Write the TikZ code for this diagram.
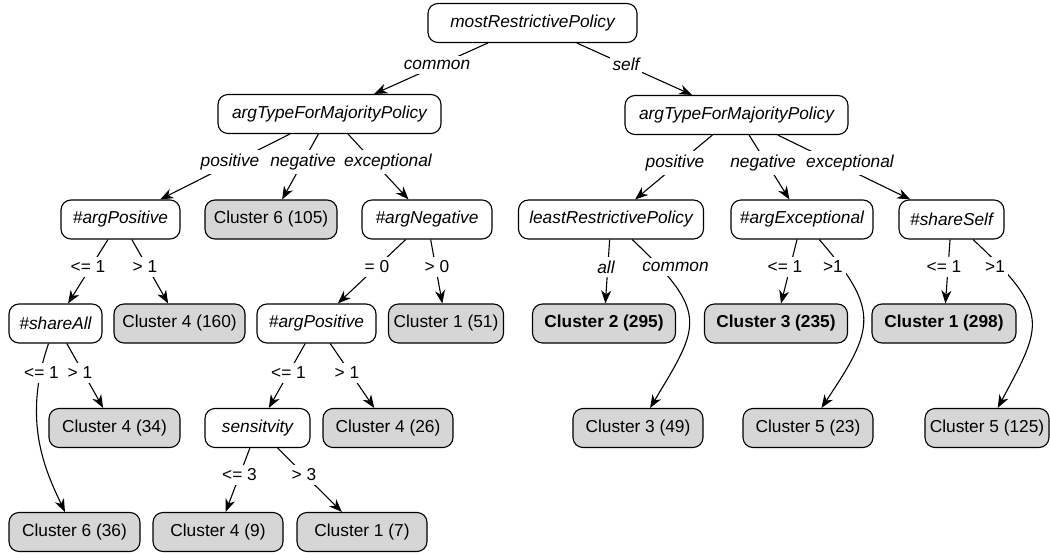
\documentclass[tikz,border=0pt]{standalone}
\usepackage{fontspec}
\setmainfont{Liberation Sans}
\usetikzlibrary{arrows.meta}
\definecolor{leafgray}{RGB}{214,214,214}
\newcommand{\fsz}{\fontsize{17.3}{20}\selectfont}
\tikzset{
  dec/.style={draw, line width=1.1pt, rounded corners=10pt, minimum height=39pt, inner xsep=2pt, inner ysep=0pt, font=\fsz\itshape, fill=white},
  leaf/.style={dec, fill=leafgray, font=\fsz},
  bleaf/.style={dec, fill=leafgray, font=\fsz\bfseries},
  lab/.style={fill=white, inner xsep=3pt, inner ysep=4pt, font=\fsz\itshape},
  cond/.style={fill=white, inner xsep=3pt, inner ysep=4pt, font=\fsz},
  edge/.style={line width=1.1pt, -{Stealth[length=13pt,width=10pt,inset=4pt]}},
}
\begin{document}
\begin{tikzpicture}[x=1pt,y=-1pt]
\useasboundingbox (0,0) rectangle (1050,554);
% level 0-1
\node[dec, minimum width=209pt] (root) at (532.5,23) {mostRestrictivePolicy};
\node[dec, minimum width=223pt] (atL) at (329.5,114) {argTypeForMajorityPolicy};
\node[dec, minimum width=223pt] (atR) at (736.5,115) {argTypeForMajorityPolicy};
% level 2
\node[dec, minimum width=119pt] (apA) at (120.5,219.5) {\#argPositive};
\node[leaf, minimum width=132pt] (c6a) at (271,219.5) {Cluster 6 (105)};
\node[dec, minimum width=130pt] (anN) at (427,219.5) {\#argNegative};
\node[dec, minimum width=185pt] (lrp) at (611,219.5) {leastRestrictivePolicy};
\node[dec, minimum width=142pt] (aex) at (802,219.5) {\#argExceptional};
\node[dec, minimum width=105pt] (ssf) at (951.5,219.5) {\#shareSelf};
% level 3
\node[dec, minimum width=93pt] (sha) at (55.5,323.5) {\#shareAll};
\node[leaf, minimum width=131pt] (c4a) at (179.5,323.5) {Cluster 4 (160)};
\node[dec, minimum width=119pt] (apB) at (316.5,323.5) {\#argPositive};
\node[leaf, minimum width=115pt] (c1a) at (446,323.5) {Cluster 1 (51)};
\node[bleaf, minimum width=143pt] (c2a) at (604,323.5) {Cluster 2 (295)};
\node[bleaf, minimum width=143pt] (c3a) at (776,323.5) {Cluster 3 (235)};
\node[bleaf, minimum width=144pt] (c1b) at (944,323.5) {Cluster 1 (298)};
% level 4
\node[leaf, minimum width=131pt] (c4b) at (114.5,428) {Cluster 4 (34)};
\node[dec, minimum width=105pt] (sen) at (257.5,428) {sensitvity};
\node[leaf, minimum width=130pt] (c4c) at (388,428) {Cluster 4 (26)};
\node[leaf, minimum width=130pt] (c3b) at (638,428) {Cluster 3 (49)};
\node[leaf, minimum width=130pt] (c5a) at (808,428) {Cluster 5 (23)};
\node[leaf, minimum width=124pt] (c5b) at (987,428) {Cluster 5 (125)};
% level 5
\node[leaf, minimum width=131pt] (c6b) at (74.5,532) {Cluster 6 (36)};
\node[leaf, minimum width=130pt] (c4d) at (218,532) {Cluster 4 (9)};
\node[leaf, minimum width=130pt] (c1c) at (362,532) {Cluster 1 (7)};
% edges
\draw[edge] (root) -- (atL);
\draw[edge] (root) -- (atR);
\draw[edge] (atL) -- (apA);
\draw[edge] (atL) -- (c6a);
\draw[edge] (atL) -- (anN);
\draw[edge] (atR) -- (lrp);
\draw[edge] (atR) -- (aex);
\draw[edge] (atR) -- (ssf);
\draw[edge] (apA) -- (sha);
\draw[edge] (apA) -- (c4a);
\draw[edge] (anN) -- (apB);
\draw[edge] (anN) -- (c1a);
\draw[edge] (lrp) -- (c2a);
\draw[edge] (aex) -- (c3a);
\draw[edge] (ssf) -- (c1b);
\draw[edge] (lrp) .. controls (710,313) and (700,325) .. (c3b);
\draw[edge] (aex) .. controls (880,310) and (875,328) .. (c5a);
\draw[edge] (ssf) .. controls (1052,313) and (1042,325) .. (c5b);
\draw[edge] (sha) -- (c4b);
\draw[edge] (sha) .. controls (22,420) and (45,470) .. (c6b);
\draw[edge] (apB) -- (sen);
\draw[edge] (apB) -- (c4c);
\draw[edge] (sen) -- (c4d);
\draw[edge] (sen) -- (c1c);
% labels
\node[lab] (l1) at (437,65) {common};
\node[lab] (l2) at (626,64) {self};
\node[lab] (l3) at (230,162) {positive};
\node[lab] (l4) at (303,162) {negative};
\node[lab] (l5) at (388,162) {exceptional};
\node[lab] (l6) at (675,163) {positive};
\node[lab] (l7) at (763,163) {negative};
\node[lab] (l8) at (850,163) {exceptional};
\node[cond] (l9) at (88,267) {<= 1};
\node[cond] (l10) at (145,267) {> 1};
\node[cond] (l11) at (377,267) {= 0};
\node[cond] (l12) at (437,267) {> 0};
\node[lab] (l13) at (606,267) {all};
\node[lab] (l14) at (675.5,267) {common};
\node[cond] (l15) at (785,267) {<= 1};
\node[cond] (l16) at (833,267) {>1};
\node[cond] (l17) at (944,267) {<= 1};
\node[cond] (l18) at (995,267) {>1};
\node[cond] (l19) at (41.5,373) {<= 1};
\node[cond] (l20) at (80,373) {> 1};
\node[cond] (l21) at (288.5,373) {<= 1};
\node[cond] (l22) at (347,373) {> 1};
\node[cond] (l23) at (239.5,475) {<= 3};
\node[cond] (l24) at (304,475) {> 3};
\end{tikzpicture}
\end{document}
